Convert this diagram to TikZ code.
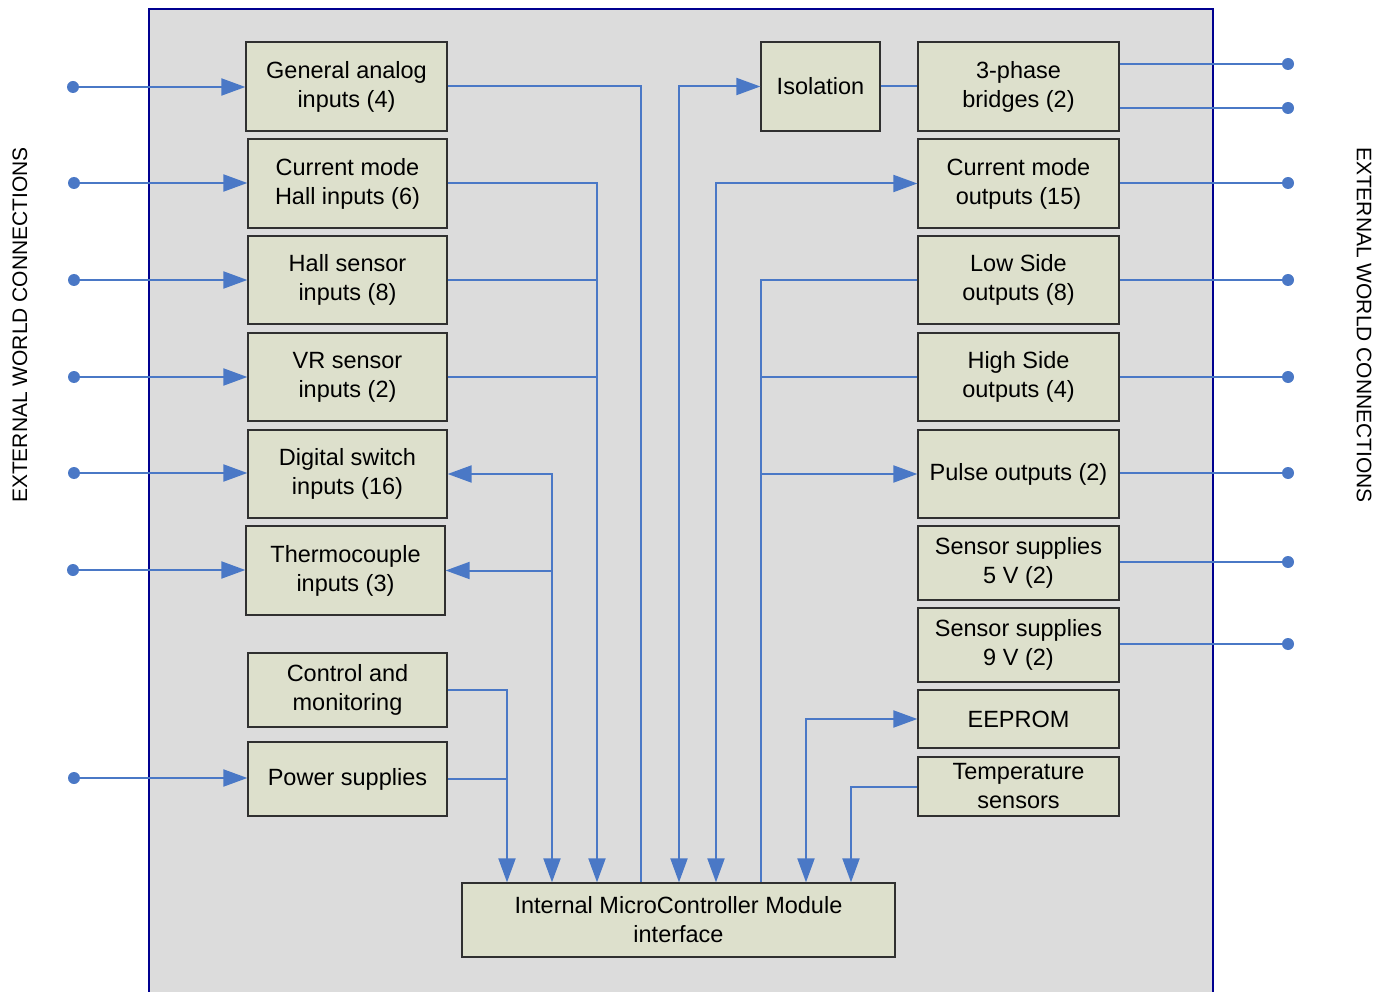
\documentclass[tikz,border=0pt]{standalone}
\usepackage{fontspec}
\setmainfont{Liberation Sans}
\usetikzlibrary{arrows.meta}
\definecolor{linkblue}{HTML}{4A78C6}
\definecolor{boxfill}{HTML}{DDE0CC}
\definecolor{bggray}{HTML}{DCDCDC}
\definecolor{framenavy}{HTML}{000090}
\definecolor{boxline}{HTML}{303030}
\tikzset{
  blk/.style={draw=boxline, line width=1.3pt, fill=boxfill, align=center, inner sep=0pt,
    font=\fontsize{23.5}{29}\selectfont},
  conn/.style={draw=linkblue, line width=2pt},
  arr/.style={conn, -{Triangle[length=24pt,width=17pt]}},
  arrboth/.style={conn, {Triangle[length=24pt,width=17pt]}-{Triangle[length=24pt,width=17pt]}},
  pin/.style={circle, fill=linkblue, inner sep=0pt, minimum size=12pt},
  sidelabel/.style={font=\fontsize{21}{25}\selectfont}
}
\begin{document}
\begin{tikzpicture}[x=1pt,y=-1pt]
\useasboundingbox (0,0) rectangle (1387,992);
% frame
\fill[bggray] (149,9) rectangle (1213,992);
\draw[framenavy, line width=2pt] (149,992) -- (149,9) -- (1213,9) -- (1213,992);

% side labels
\node[sidelabel, rotate=90] (extl) at (20,325) {EXTERNAL WORLD CONNECTIONS};
\node[sidelabel, rotate=-90] (extr) at (1364,325) {EXTERNAL WORLD CONNECTIONS};

% left boxes
\node[blk, minimum width=201pt, minimum height=89pt] (ga) at (346.5,86.5) {General analog\\inputs (4)};
\node[blk, minimum width=199pt, minimum height=89pt] (cmh) at (347.5,183.5) {Current mode\\Hall inputs (6)};
\node[blk, minimum width=199pt, minimum height=88pt] (hs) at (347.5,280) {Hall sensor\\inputs (8)};
\node[blk, minimum width=199pt, minimum height=88pt] (vr) at (347.5,377) {VR sensor\\inputs (2)};
\node[blk, minimum width=199pt, minimum height=88pt] (ds) at (347.5,474) {Digital switch\\inputs (16)};
\node[blk, minimum width=199pt, minimum height=89pt] (th) at (345.5,570.5) {Thermocouple\\inputs (3)};
\node[blk, minimum width=199pt, minimum height=74pt] (cm) at (347.5,690) {Control and\\monitoring};
\node[blk, minimum width=199pt, minimum height=74pt] (ps) at (347.5,779) {Power supplies};

% right boxes
\node[blk, minimum width=119pt, minimum height=89pt] (iso) at (820.5,86.5) {Isolation};
\node[blk, minimum width=201pt, minimum height=89pt] (tp) at (1018.5,86.5) {3-phase\\bridges (2)};
\node[blk, minimum width=201pt, minimum height=89pt] (cmo) at (1018.5,183.5) {Current mode\\outputs (15)};
\node[blk, minimum width=201pt, minimum height=88pt] (lso) at (1018.5,280) {Low Side\\outputs (8)};
\node[blk, minimum width=201pt, minimum height=88pt] (hso) at (1018.5,377) {High Side\\outputs (4)};
\node[blk, minimum width=201pt, minimum height=88pt] (po) at (1018.5,474) {Pulse outputs (2)};
\node[blk, minimum width=201pt, minimum height=74pt] (ss5) at (1018.5,563) {Sensor supplies\\5 V (2)};
\node[blk, minimum width=201pt, minimum height=74pt] (ss9) at (1018.5,645) {Sensor supplies\\9 V (2)};
\node[blk, minimum width=201pt, minimum height=58pt] (ee) at (1018.5,719) {EEPROM};
\node[blk, minimum width=201pt, minimum height=59pt] (ts) at (1018.5,786.5) {Temperature\\sensors};

% module
\node[blk, minimum width=433pt, minimum height=74pt] (mcu) at (678.5,920) {Internal MicroController Module\\interface};

% bus x positions
\coordinate (b507) at (507,0);
\coordinate (b552) at (552,0);
\coordinate (b597) at (597,0);
\coordinate (b641) at (641,0);
\coordinate (b679) at (679,0);
\coordinate (b716) at (716,0);
\coordinate (b761) at (761,0);
\coordinate (b806) at (806,0);
\coordinate (b851) at (851,0);

% external pins left
\node[pin] (l1) at (73,87) {};
\node[pin] (l2) at (74,183) {};
\node[pin] (l3) at (74,280) {};
\node[pin] (l4) at (74,377) {};
\node[pin] (l5) at (74,473) {};
\node[pin] (l6) at (73,570) {};
\node[pin] (l7) at (74,778) {};
\draw[arr] (l1) -- (l1 -| ga.west);
\draw[arr] (l2) -- (l2 -| cmh.west);
\draw[arr] (l3) -- (l3 -| hs.west);
\draw[arr] (l4) -- (l4 -| vr.west);
\draw[arr] (l5) -- (l5 -| ds.west);
\draw[arr] (l6) -- (l6 -| th.west);
\draw[arr] (l7) -- (l7 -| ps.west);

% external pins right
\node[pin] (r1) at (1288,64) {};
\node[pin] (r2) at (1288,108) {};
\node[pin] (r3) at (1288,183) {};
\node[pin] (r4) at (1288,280) {};
\node[pin] (r5) at (1288,377) {};
\node[pin] (r6) at (1288,473) {};
\node[pin] (r7) at (1288,562) {};
\node[pin] (r8) at (1288,644) {};
\draw[conn] (r1) -- (r1 -| tp.east);
\draw[conn] (r2) -- (r2 -| tp.east);
\draw[conn] (r3) -- (r3 -| cmo.east);
\draw[conn] (r4) -- (r4 -| lso.east);
\draw[conn] (r5) -- (r5 -| hso.east);
\draw[conn] (r6) -- (r6 -| po.east);
\draw[conn] (r7) -- (r7 -| ss5.east);
\draw[conn] (r8) -- (r8 -| ss9.east);

% left side internal connections
\draw[conn] (ga.east) -| (mcu.north -| b641);
\draw[arr] (cmh.east) -| (mcu.north -| b597);
\draw[conn] (hs.east) -- (hs.east -| b597);
\draw[conn] (vr.east) -- (vr.east -| b597);
\draw[arrboth] (ds.east) -| (mcu.north -| b552);
\draw[arr] (th.east -| b552) -- (th.east);
\draw[arr] (cm.east) -| (mcu.north -| b507);
\draw[conn] (ps.east) -- (ps.east -| b507);

% right side internal connections
\draw[arrboth] (iso.west) -| (mcu.north -| b679);
\draw[conn] (iso.east) -- (tp.west);
\draw[arrboth] (cmo.west) -| (mcu.north -| b716);
\draw[conn] (lso.west) -| (mcu.north -| b761);
\draw[conn] (hso.west) -- (hso.west -| b761);
\draw[arr] (po.west -| b761) -- (po.west);
\draw[arrboth] (ee.west) -| (mcu.north -| b806);
\draw[arr] (ts.west) -| (mcu.north -| b851);
\end{tikzpicture}
\end{document}
